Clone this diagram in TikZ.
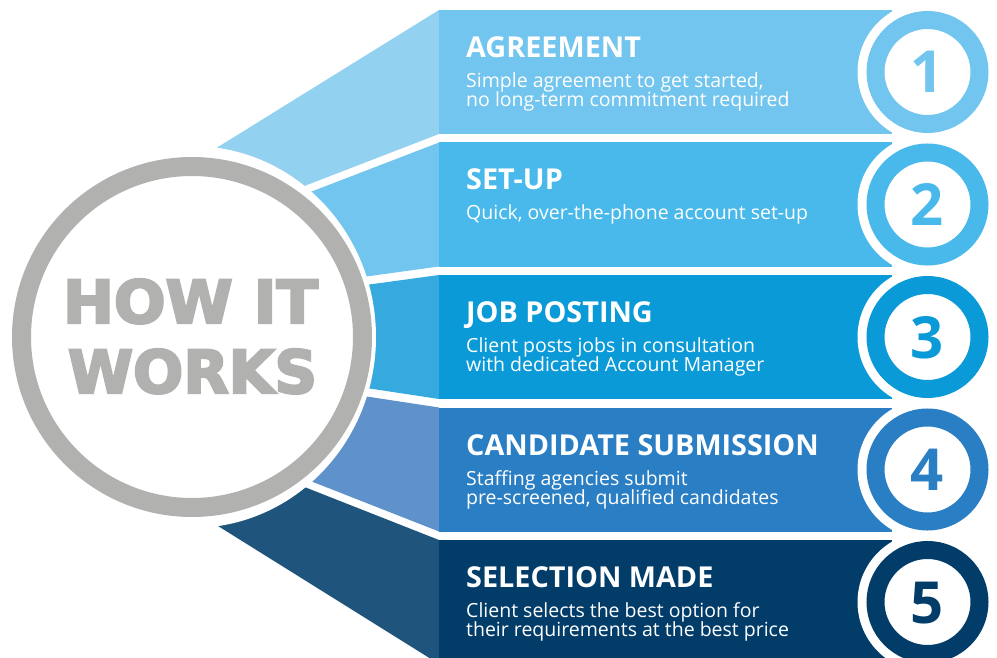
\documentclass[tikz,border=0pt]{standalone}
\usepackage{fontspec}
\setmainfont{Open Sans}
\newfontfamily\howfont{DejaVu Sans Bold}[FakeBold=4]
\usetikzlibrary{calc}
\definecolor{fanA}{HTML}{93D1F1}
\definecolor{banA}{HTML}{72C5EE}
\definecolor{fanB}{HTML}{72C5EE}
\definecolor{banB}{HTML}{48B9EA}
\definecolor{fanC}{HTML}{36A9DF}
\definecolor{banC}{HTML}{0A9AD7}
\definecolor{fanD}{HTML}{5F92CB}
\definecolor{banD}{HTML}{2A7EC3}
\definecolor{fanE}{HTML}{1F557D}
\definecolor{banE}{HTML}{023C69}
\definecolor{ringgray}{HTML}{B1B1B0}
\tikzset{
  titletext/.style={anchor=base west, text=white, inner sep=0pt, font=\bfseries\fontsize{28.8}{29}\selectfont},
  desctext/.style={anchor=base west, text=white, inner sep=0pt, font=\fontsize{19.5}{19}\selectfont},
  numring/.style={line width=18pt, draw=#1, fill=white},
  numtext/.style={anchor=base, inner sep=0pt, font=\bfseries\fontsize{58}{58}\selectfont},
  howtext/.style={anchor=base, inner sep=0pt, text=ringgray, font=\howfont},
}
\begin{document}
\begin{tikzpicture}[x=1pt,y=-1pt]
\useasboundingbox (0,0) rectangle (997,658);
\clip (0,0) rectangle (997,658);
% fans (left, lighter parts)
\fill[fanA] (439,10) -- ($(439,10)!1.4!(218,147)$) -- ($(439,134)!1.4!(307,185)$) -- (439,134) -- cycle;
\fill[fanB] (439,142.5) -- ($(439,142.5)!1.4!(313,191)$) -- ($(439,266.5)!1.4!(370,276)$) -- (439,266.5) -- cycle;
\fill[fanC] (439,275) -- ($(439,275)!1.4!(373,284)$) -- ($(439,399)!1.4!(373,389)$) -- (439,399) -- cycle;
\fill[fanD] (439,407.5) -- ($(439,407.5)!1.4!(370,397)$) -- ($(439,531.5)!1.4!(313,482)$) -- (439,531.5) -- cycle;
\fill[fanE] (439,540) -- ($(439,540)!1.4!(307,488)$) -- ($(439,664)!1.4!(218,526)$) -- (439,664) -- cycle;
% banners (right parts)
\fill[banA] (439,10) rectangle (892,134);
\fill[banB] (439,142.5) rectangle (892,266.5);
\fill[banC] (439,275) rectangle (892,399);
\fill[banD] (439,407.5) rectangle (892,531.5);
\fill[banE] (439,540) rectangle (892,664);
% white cut-outs
\fill[white] (192,337) ellipse [x radius=184, y radius=191];
\fill[white] (927.5,72) circle [radius=70];
\fill[white] (927.5,204.5) circle [radius=70];
\fill[white] (927.5,337) circle [radius=70];
\fill[white] (927.5,469.5) circle [radius=70];
\fill[white] (927.5,602) circle [radius=70];
% central ring
\draw[ringgray, line width=19pt, fill=white] (192,337) circle [radius=170.5];
\node[howtext] (how) at (190.5,323) {\resizebox{255pt}{44pt}{HOW IT}};
\node[howtext] (works) at (192.5,393) {\resizebox{249pt}{44pt}{WORKS}};
% number circles
\draw[numring=banA] (927.5,72) circle [radius=52];
\draw[numring=banB] (927.5,204.5) circle [radius=52];
\draw[numring=banC] (927.5,337) circle [radius=52];
\draw[numring=banD] (927.5,469.5) circle [radius=52];
\draw[numring=banE] (927.5,602) circle [radius=52];
\node[numtext, text=banA] (n1) at (927.5,93) {1};
\node[numtext, text=banB] (n2) at (927.5,225.5) {2};
\node[numtext, text=banC] (n3) at (927.5,358) {3};
\node[numtext, text=banD] (n4) at (927.5,490.5) {4};
\node[numtext, text=banE] (n5) at (927.5,623) {5};
% texts
\node[titletext] (t1) at (466,57.5) {AGREEMENT};
\node[desctext] (d1a) at (466,87.5) {Simple agreement to get started,};
\node[desctext] (d1b) at (466,106.5) {no long-term commitment required};
\node[titletext] (t2) at (466,190) {SET-UP};
\node[desctext] (d2a) at (466,220) {Quick, over-the-phone account set-up};
\node[titletext] (t3) at (466,322.5) {JOB POSTING};
\node[desctext] (d3a) at (466,352.5) {Client posts jobs in consultation};
\node[desctext] (d3b) at (466,371.5) {with dedicated Account Manager};
\node[titletext] (t4) at (466,455) {CANDIDATE SUBMISSION};
\node[desctext] (d4a) at (466,485) {Staffing agencies submit};
\node[desctext] (d4b) at (466,504) {pre-screened, qualified candidates};
\node[titletext] (t5) at (466,587.5) {SELECTION MADE};
\node[desctext] (d5a) at (466,617.5) {Client selects the best option for};
\node[desctext] (d5b) at (466,636.5) {their requirements at the best price};
\end{tikzpicture}
\end{document}
